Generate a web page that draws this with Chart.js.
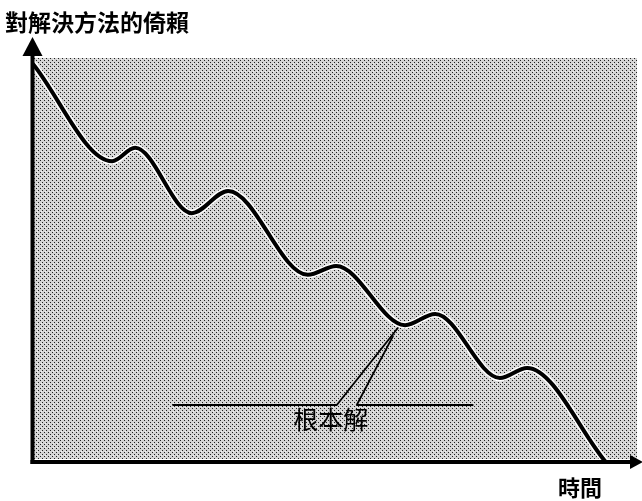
<!DOCTYPE html>
<html>
<head>
<meta charset="utf-8">
<script src="https://cdn.jsdelivr.net/npm/chart.js@4.4.1/dist/chart.umd.min.js"></script>
<style>
  html, body { margin: 0; padding: 0; background: #ffffff; }
  #wrap { width: 642px; height: 501px; }
</style>
</head>
<body>
<div id="wrap"><canvas id="c" width="642" height="501"></canvas></div>
<script>
// Reliance on the fix over time: it keeps falling, with short rebounds.
const timePoints     = [0, 13.1, 16.9, 26.3, 32.3, 45.5, 50.2, 61.6, 66.6, 77.3, 81.8, 94.7];
const relianceValues = [98.5, 74.4, 77.7, 61.5, 67.0, 46.2, 48.4, 33.7, 36.5, 20.6, 23.1, 0];

// Callout for the fundamental solution: two legs meeting at one dip of the curve.
const calloutLeftX  = [23.2, 50.3, 60.4];
const calloutLeftY  = [13.9, 13.9, 33.0];
const calloutRightX = [59.6, 53.6, 72.8];
const calloutRightY = [31.0, 13.9, 13.9];
const calloutLabel  = { text: '根本解', x: 49.3, y: 10.2 };

const yTitle = '對解決方法的倚賴';
const xTitle = '時間';

const toXY = (xs, ys) => xs.map((x, i) => ({ x: x, y: ys[i] }));
const FONT = '"Noto Sans CJK TC", "Noto Sans CJK SC", sans-serif';

// Halftone-like dotted fill for the plot area
function makeDotPattern(ctx) {
  const p = document.createElement('canvas');
  p.width = 4; p.height = 4;
  const g = p.getContext('2d');
  g.fillStyle = '#d4d4d4';
  g.fillRect(0, 0, 4, 4);
  g.fillStyle = '#202020';
  g.fillRect(0, 0, 1, 1);
  g.fillRect(2, 2, 1, 1);
  g.fillStyle = '#f0f0f0';
  g.fillRect(1, 3, 1, 1);
  return ctx.createPattern(p, 'repeat');
}

const decorPlugin = {
  id: 'decor',
  beforeDatasetsDraw(chart) {
    const { ctx, chartArea: a } = chart;
    ctx.save();
    ctx.fillStyle = makeDotPattern(ctx);
    ctx.fillRect(a.left + 1, a.top, a.right - a.left - 1, a.bottom - a.top - 2);
    ctx.restore();
  },
  afterDatasetsDraw(chart) {
    const { ctx, chartArea: a, scales } = chart;
    ctx.save();
    // axes
    ctx.strokeStyle = '#000';
    ctx.fillStyle = '#000';
    ctx.lineWidth = 4;
    ctx.lineCap = 'butt';
    const ax = a.left - 0.5;
    const ay = a.bottom + 1;
    ctx.beginPath();
    ctx.moveTo(ax, ay + 2);
    ctx.lineTo(ax, 50);
    ctx.stroke();
    ctx.beginPath();
    ctx.moveTo(ax - 2, ay);
    ctx.lineTo(634, ay);
    ctx.stroke();
    // arrowheads
    ctx.beginPath();
    ctx.moveTo(ax, 37);
    ctx.lineTo(ax + 10, 56);
    ctx.lineTo(ax - 10, 56);
    ctx.closePath();
    ctx.fill();
    ctx.beginPath();
    ctx.moveTo(643, ay);
    ctx.lineTo(630, ay - 7);
    ctx.lineTo(630, ay + 7);
    ctx.closePath();
    ctx.fill();

    // texts
    ctx.textBaseline = 'middle';
    ctx.textAlign = 'left';
    ctx.font = 'bold 23px ' + FONT;
    ctx.fillText(yTitle, 5, 22);
    ctx.font = 'bold 22px ' + FONT;
    ctx.fillText(xTitle, 558, 488);
    ctx.textAlign = 'center';
    ctx.font = '25px ' + FONT;
    ctx.fillText(calloutLabel.text,
      scales.x.getPixelForValue(calloutLabel.x),
      scales.y.getPixelForValue(calloutLabel.y));
    ctx.restore();
  }
};

const curveData = toXY(timePoints, relianceValues);

new Chart(document.getElementById('c'), {
  type: 'scatter',
  data: {
    datasets: [
      {
        data: curveData,
        showLine: true,
        borderColor: '#000',
        borderWidth: 4,
        cubicInterpolationMode: 'monotone',
        pointRadius: 0,
        order: 1
      },
      {
        data: curveData,
        showLine: true,
        borderColor: '#ffffff',
        borderWidth: 7,
        cubicInterpolationMode: 'monotone',
        pointRadius: 0,
        order: 2
      },
      {
        data: toXY(calloutLeftX, calloutLeftY),
        showLine: true,
        borderColor: '#000',
        borderWidth: 1.8,
        tension: 0,
        pointRadius: 0,
        order: 3
      },
      {
        data: toXY(calloutRightX, calloutRightY),
        showLine: true,
        borderColor: '#000',
        borderWidth: 1.8,
        tension: 0,
        pointRadius: 0,
        order: 3
      }
    ]
  },
  options: {
    responsive: false,
    animation: false,
    devicePixelRatio: 1,
    layout: { padding: { left: 33, top: 58, right: 5, bottom: 40 } },
    plugins: { legend: { display: false }, tooltip: { enabled: false } },
    scales: {
      x: { type: 'linear', display: false, min: 0, max: 100 },
      y: { type: 'linear', display: false, min: 0, max: 100 }
    },
    elements: { line: { borderCapStyle: 'round', borderJoinStyle: 'round' } }
  },
  plugins: [decorPlugin]
});
</script>
</body>
</html>
